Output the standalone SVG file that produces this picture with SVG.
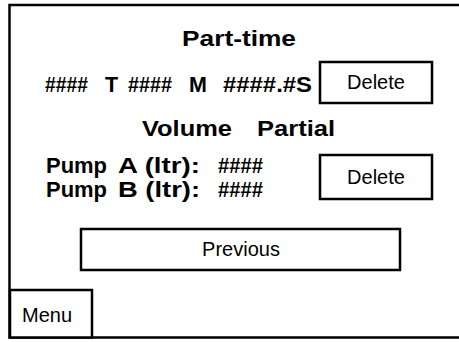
<svg xmlns="http://www.w3.org/2000/svg" width="459" height="342" viewBox="0 0 459 342">
<style>
.frame{fill:none;stroke:#000;stroke-width:2.5}
.box{fill:#fff;stroke:#000;stroke-width:2.5}
.b{font-family:"Liberation Sans",Arial,sans-serif;font-weight:bold;font-size:21.5px;fill:#000}
.r{font-family:"Liberation Sans",Arial,sans-serif;font-size:20px;fill:#000}
</style>
<rect width="459" height="342" fill="#fff"/>
<g id="frame">
<path class="frame" d="M459,5 H9.5 V337.5 H459"/>
</g>
<g id="title">
<text class="b" x="182" y="46" textLength="114" lengthAdjust="spacingAndGlyphs">Part-time</text>
</g>
<g id="time-row">
<text class="b" x="45" y="92" textLength="43" lengthAdjust="spacingAndGlyphs">####</text>
<text class="b" x="105" y="92">T</text>
<text class="b" x="128" y="92" textLength="44" lengthAdjust="spacingAndGlyphs">####</text>
<text class="b" x="189" y="92">M</text>
<text class="b" x="223" y="92" textLength="89" lengthAdjust="spacingAndGlyphs">####.#S</text>
</g>
<g id="delete1">
<rect class="box" x="320" y="62" width="112" height="41"/>
<text class="r" x="376" y="89" text-anchor="middle">Delete</text>
</g>
<g id="volume-title">
<text class="b" x="142" y="136" textLength="90" lengthAdjust="spacingAndGlyphs">Volume</text>
<text class="b" x="257" y="136" textLength="78" lengthAdjust="spacingAndGlyphs">Partial</text>
</g>
<g id="pump-a">
<text class="b" x="46" y="173" textLength="61" lengthAdjust="spacingAndGlyphs">Pump</text>
<text class="b" x="118" y="173" textLength="82" lengthAdjust="spacingAndGlyphs">A (ltr):</text>
<text class="b" x="218" y="173" textLength="45" lengthAdjust="spacingAndGlyphs">####</text>
</g>
<g id="pump-b">
<text class="b" x="46" y="197" textLength="61" lengthAdjust="spacingAndGlyphs">Pump</text>
<text class="b" x="118" y="197" textLength="82" lengthAdjust="spacingAndGlyphs">B (ltr):</text>
<text class="b" x="218" y="197" textLength="45" lengthAdjust="spacingAndGlyphs">####</text>
</g>
<g id="delete2">
<rect class="box" x="320" y="155" width="112" height="44"/>
<text class="r" x="376" y="184" text-anchor="middle">Delete</text>
</g>
<g id="previous">
<rect class="box" x="81" y="229" width="319" height="41"/>
<text class="r" x="241" y="256" text-anchor="middle">Previous</text>
</g>
<g id="menu">
<rect class="box" x="10" y="290" width="82" height="47.5"/>
<text class="r" x="22" y="322">Menu</text>
</g>
<g id="connectors"/>
</svg>
